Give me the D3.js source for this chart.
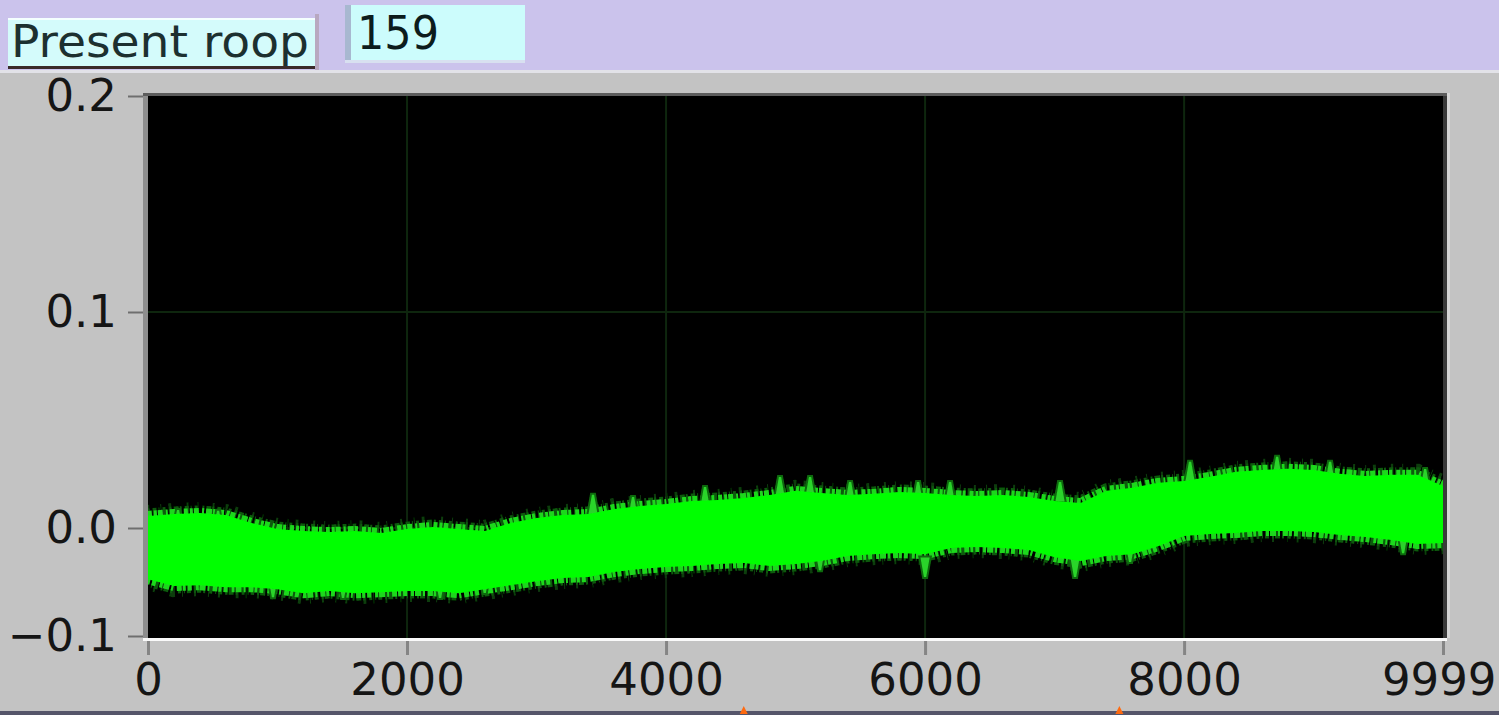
<!DOCTYPE html>
<html>
<head>
<meta charset="utf-8">
<script src="https://cdn.jsdelivr.net/npm/d3@7"></script>
<style>
  html, body { margin: 0; padding: 0; background: #c3c3c3; }
  svg { display: block; }
</style>
</head>
<body>
<svg id="chart" width="1499" height="715"></svg>
<script>
// Loop counter shown in the header
const loopLabel = "Present roop";
const loopValue = "159";

// Axis ticks
const xTickVals = [0, 2000, 4000, 6000, 8000, 9999];
const xTickLabels = ["0", "2000", "4000", "6000", "8000", "9999"];
const yTickVals = [-0.05, 0, 0.1, 0.2];
const yTickLabels = ["\u22120.1", "0.0", "0.1", "0.2"];

// Envelope of the noisy signal band (sample index, upper / lower value)
const sampleIdx = [0, 200, 400, 600, 800, 1000, 1200, 1400, 1600, 1800,
  2000, 2200, 2400, 2600, 2800, 3000, 3200, 3400, 3600, 3800,
  4000, 4200, 4400, 4600, 4800, 5000, 5200, 5400, 5600, 5800,
  6000, 6200, 6400, 6600, 6800, 7000, 7200, 7400, 7600, 7800,
  8000, 8200, 8400, 8600, 8800, 9000, 9200, 9400, 9600, 9800, 9999];
const upperVals = [0.0056, 0.0065, 0.0070, 0.0060, 0.0023, -0.0005, -0.0014, -0.0019, -0.0014, -0.0023,
  -0.0005, 0.0005, -0.0005, -0.0014, 0.0023, 0.0046, 0.0060, 0.0065, 0.0088, 0.0102,
  0.0111, 0.0125, 0.0130, 0.0139, 0.0153, 0.0172, 0.0162, 0.0153, 0.0158, 0.0167,
  0.0162, 0.0153, 0.0148, 0.0153, 0.0144, 0.0125, 0.0116, 0.0172, 0.0186, 0.0209,
  0.0218, 0.0237, 0.0260, 0.0269, 0.0274, 0.0269, 0.0251, 0.0241, 0.0246, 0.0246, 0.0195];
const lowerVals = [-0.0237, -0.0269, -0.0265, -0.0274, -0.0274, -0.0283, -0.0302, -0.0292, -0.0302, -0.0297,
  -0.0292, -0.0292, -0.0302, -0.0283, -0.0265, -0.0246, -0.0232, -0.0227, -0.0204, -0.0190,
  -0.0181, -0.0176, -0.0167, -0.0162, -0.0176, -0.0167, -0.0153, -0.0130, -0.0121, -0.0116,
  -0.0121, -0.0093, -0.0088, -0.0093, -0.0102, -0.0135, -0.0153, -0.0130, -0.0121, -0.0084,
  -0.0037, -0.0028, -0.0023, -0.0014, -0.0014, -0.0019, -0.0032, -0.0042, -0.0056, -0.0074, -0.0070];

// Isolated noise spikes reaching beyond the band
const upperSpikeIdx = [232, 541, 3436, 3745, 4301, 4880, 5112, 5421, 5946, 6193, 7042, 8046, 8718, 9127, 9861];
const upperSpikeVals = [0.0088, 0.0084, 0.0158, 0.0148, 0.0195, 0.0241, 0.0241, 0.0218, 0.0218, 0.0218, 0.0218, 0.0311, 0.0334, 0.0311, 0.0278];
const lowerSpikeIdx = [965, 1506, 2255, 2600, 5189, 6000, 7158, 7583, 9691];
const lowerSpikeVals = [-0.0325, -0.0329, -0.0329, -0.0306, -0.0200, -0.0232, -0.0232, -0.0162, -0.0121];

// Cursor markers under the graph
const cursorIdx = [4600, 7500];

const svg = d3.select("#chart");
const W = 1499, H = 715;

const x = d3.scaleLinear().domain([0, 9999]).range([148, 1443]);
const y = d3.scaleLinear().domain([-0.05, 0.2]).range([636, 96]);

const defs = svg.append("defs");
defs.append("filter").attr("id", "soft").append("feGaussianBlur").attr("stdDeviation", 0.7);
defs.append("clipPath").attr("id", "plotClip").append("rect")
  .attr("x", 148).attr("y", 96).attr("width", 1295).attr("height", 542);

// Panel background
svg.append("rect").attr("x", 0).attr("y", 0).attr("width", W).attr("height", H).attr("fill", "#c3c3c3");
svg.append("rect").attr("x", 0).attr("y", 0).attr("width", W).attr("height", 70).attr("fill", "#cbc3ec");
svg.append("rect").attr("x", 0).attr("y", 70).attr("width", W).attr("height", 3).attr("fill", "#e2e2e8");
svg.append("rect").attr("x", 0).attr("y", 711).attr("width", W).attr("height", 4).attr("fill", "#55556a");

// Header: label box and numeric indicator
const hdr = svg.append("g");
hdr.append("rect").attr("x", 8).attr("y", 18).attr("width", 309).attr("height", 50).attr("fill", "#d4fbfb");
hdr.append("rect").attr("x", 8).attr("y", 18).attr("width", 309).attr("height", 2).attr("fill", "#f4ffff");
hdr.append("rect").attr("x", 8).attr("y", 66).attr("width", 309).attr("height", 3).attr("fill", "#3a2a2a");
hdr.append("rect").attr("x", 315).attr("y", 14).attr("width", 4).attr("height", 56).attr("fill", "#b8a8c0");
hdr.append("text").attr("x", 11).attr("y", 57)
  .attr("font-family", "DejaVu Sans, sans-serif").attr("font-size", 44)
  .attr("textLength", 298).attr("lengthAdjust", "spacingAndGlyphs")
  .attr("fill", "#1c3030").text(loopLabel);

hdr.append("rect").attr("x", 345).attr("y", 5).attr("width", 180).attr("height", 58).attr("fill", "#ccfcfc");
hdr.append("rect").attr("x", 345).attr("y", 5).attr("width", 6).attr("height", 58).attr("fill", "#a8b8d0");
hdr.append("rect").attr("x", 345).attr("y", 60).attr("width", 180).attr("height", 3).attr("fill", "#d8e0f0");
hdr.append("text").attr("x", 357).attr("y", 49)
  .attr("font-family", "DejaVu Sans, sans-serif").attr("font-size", 46)
  .attr("textLength", 82).attr("lengthAdjust", "spacingAndGlyphs")
  .attr("fill", "#0c1c1c").text(loopValue);

// Plot frame
const [x0, x1] = x.range();
const [yb, yt] = y.range();
svg.append("rect").attr("x", x0 - 5).attr("y", yt - 3).attr("width", x1 - x0 + 10).attr("height", 3).attr("fill", "#5c5c5c");
svg.append("rect").attr("x", x0 - 5).attr("y", yt).attr("width", 5).attr("height", yb - yt + 2).attr("fill", "#8e8e8e");
svg.append("rect").attr("x", x1).attr("y", yt).attr("width", 4).attr("height", yb - yt + 2).attr("fill", "#3a3a3a");
svg.append("rect").attr("x", x1 + 4).attr("y", yt - 3).attr("width", 3).attr("height", yb - yt + 5).attr("fill", "#d6d6d6");
svg.append("rect").attr("x", x0).attr("y", yt).attr("width", x1 - x0).attr("height", yb - yt + 2).attr("fill", "#000");
svg.append("rect").attr("x", x0 - 5).attr("y", yb + 2).attr("width", x1 - x0 + 9).attr("height", 3).attr("fill", "#fafafa");

// Grid
const grid = svg.append("g").attr("stroke", "#0e260e").attr("stroke-width", 2);
grid.selectAll("line.v").data(xTickVals.slice(1, -1)).join("line")
  .attr("x1", d => x(d)).attr("x2", d => x(d)).attr("y1", yt).attr("y2", yb + 2);
grid.selectAll("line.h").data(yTickVals.filter(v => v >= 0 && v < 0.2)).join("line")
  .attr("x1", x0).attr("x2", x1).attr("y1", d => y(d)).attr("y2", d => y(d));

// Signal band
const upperPts = sampleIdx.map((d, i) => [d, upperVals[i]]);
const lowerPts = sampleIdx.map((d, i) => [d, lowerVals[i]]);
const bandPts = upperPts.concat(lowerPts.slice().reverse());
const line = d3.line().x(d => x(d[0])).y(d => y(d[1]));
const outline = line(bandPts) + "Z";

const band = svg.append("g").attr("clip-path", "url(#plotClip)")
  .append("g").attr("filter", "url(#soft)");

// ragged fringe along the band edges: sparse tall flecks, then denser short ones
band.append("path").attr("d", outline).attr("fill", "none")
  .attr("stroke", "#0a3c0a").attr("stroke-width", 22)
  .attr("stroke-dasharray", "2 11 1 7 3 15 2 9 1 13");
band.append("path").attr("d", outline).attr("fill", "none")
  .attr("stroke", "#0b5a0b").attr("stroke-width", 15)
  .attr("stroke-dasharray", "2 3 4 2 1 3 3 4 2 2 5 1");
band.append("path").attr("d", outline).attr("fill", "none")
  .attr("stroke", "#1fd81f").attr("stroke-width", 10)
  .attr("stroke-dasharray", "4 2 3 1 5 3 2 2 6 1 3 4");

// Spikes as narrow wedges anchored inside the band
const spike = (i, v, dir) => line([[i - 45, v - dir * 0.01], [i - 15, v], [i + 15, v], [i + 45, v - dir * 0.01]]) + "Z";
band.selectAll("path.us").data(upperSpikeIdx).join("path")
  .attr("d", (d, k) => spike(d, upperSpikeVals[k], 1))
  .attr("fill", "#2ad42a").attr("stroke", "#0e6a0e").attr("stroke-width", 2);
band.selectAll("path.ls").data(lowerSpikeIdx).join("path")
  .attr("d", (d, k) => spike(d, lowerSpikeVals[k], -1))
  .attr("fill", "#2ad42a").attr("stroke", "#0e6a0e").attr("stroke-width", 2);

// solid core
band.append("path").attr("d", outline).attr("fill", "#00ff00");

// Y axis
const yAxis = d3.axisLeft(y).tickValues(yTickVals)
  .tickFormat((d, i) => yTickLabels[i]).tickSize(15).tickPadding(11);
const gy = svg.append("g").attr("transform", `translate(${x0 - 5},0)`).call(yAxis);
gy.select(".domain").remove();
gy.selectAll(".tick line").attr("stroke", "#6e6e6e").attr("stroke-width", 2);
gy.selectAll(".tick text").attr("fill", "#151515")
  .attr("font-family", "DejaVu Sans, sans-serif").attr("font-size", 45);

// X axis
const xAxis = d3.axisBottom(x).tickValues(xTickVals)
  .tickFormat((d, i) => xTickLabels[i]).tickSize(14).tickPadding(8);
const gx = svg.append("g").attr("transform", `translate(0,${yb + 5})`).call(xAxis);
gx.select(".domain").remove();
gx.selectAll(".tick line").attr("stroke", "#858585").attr("stroke-width", 3);
gx.selectAll(".tick text").attr("fill", "#151515")
  .attr("font-family", "DejaVu Sans, sans-serif").attr("font-size", 45)
  .attr("text-anchor", (d, i) => i === xTickVals.length - 1 ? "end" : "middle")
  .attr("dx", (d, i) => i === xTickVals.length - 1 ? 53 : 0);

// Cursor markers
svg.selectAll("path.cursor").data(cursorIdx).join("path")
  .attr("d", d => `M${x(d) - 4},714 L${x(d)},706 L${x(d) + 4},714 Z`)
  .attr("fill", "#ff6a10");
</script>
</body>
</html>
